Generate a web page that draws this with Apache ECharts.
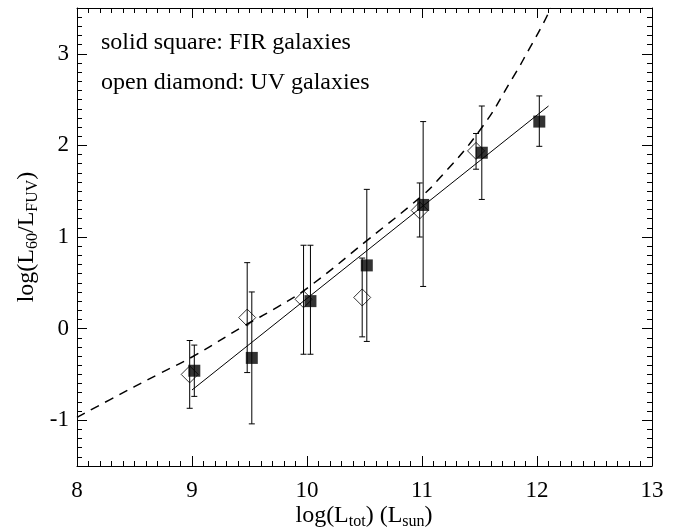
<!DOCTYPE html>
<html>
<head>
<meta charset="utf-8">
<script src="https://cdn.jsdelivr.net/npm/echarts@6/dist/echarts.min.js"></script>
<style>html,body{margin:0;padding:0;background:#fff;}#c{width:690px;height:530px;}</style>
</head>
<body>
<div id="c"></div>
<script>
// FIR galaxies (solid squares)
var firX  = [9.02, 9.52, 10.03, 10.52, 11.01, 11.52, 12.02];
var firY  = [-0.46, -0.32, 0.30, 0.69, 1.35, 1.92, 2.26];
var firLo = [-0.74, -1.04, -0.28, -0.14, 0.46, 1.41, 1.99];
var firHi = [-0.18, 0.40, 0.91, 1.52, 2.26, 2.43, 2.54];
// UV galaxies (open diamonds)
var uvX  = [8.98, 9.48, 9.97, 10.48, 10.98, 11.47];
var uvY  = [-0.50, 0.12, 0.32, 0.34, 1.29, 1.94];
var uvLo = [-0.87, -0.48, -0.28, -0.09, 1.00, 1.74];
var uvHi = [-0.13, 0.72, 0.91, 0.77, 1.59, 2.13];
// solid fitted line
var fitX = [9.0, 12.1];
var fitY = [-0.67, 2.43];
// dashed curve
var curveX = [8.0, 8.28, 8.72, 9.0, 9.44, 9.75, 10.0, 10.52, 11.0, 11.13, 11.5, 11.79, 11.94, 12.05, 12.12];
var curveY = [-0.97, -0.78, -0.49, -0.31, 0.02, 0.24, 0.44, 0.96, 1.45, 1.61, 2.16, 2.74, 3.07, 3.32, 3.50];
// axes
var xMin = 8, xMax = 13;
var yMin = -1.5, yMax = 3.5;
var yTicks = [-1, 0, 1, 2, 3];
var legendLines = ['solid square: FIR galaxies', 'open diamond: UV galaxies'];

var FONT = '"Liberation Serif", "DejaVu Serif", serif';
var chart = echarts.init(document.getElementById('c'), null, {renderer: 'canvas'});

function zip(a, b) { return a.map(function (v, i) { return [v, b[i]]; }); }
function errData(x, lo, hi) { return x.map(function (v, i) { return [v, lo[i], hi[i]]; }); }

function errRender(params, api) {
  var p1 = api.coord([api.value(0), api.value(1)]);
  var p2 = api.coord([api.value(0), api.value(2)]);
  var c = 3;
  var st = {stroke: '#000', lineWidth: 1};
  return {
    type: 'group',
    children: [
      {type: 'line', shape: {x1: p1[0], y1: p1[1], x2: p2[0], y2: p2[1]}, style: st},
      {type: 'line', shape: {x1: p1[0] - c, y1: p1[1], x2: p1[0] + c, y2: p1[1]}, style: st},
      {type: 'line', shape: {x1: p2[0] - c, y1: p2[1], x2: p2[0] + c, y2: p2[1]}, style: st}
    ]
  };
}

var LINE = {color: '#000', width: 1};
function mkX(pos, labels) {
  return {
    type: 'value', position: pos, min: xMin, max: xMax, interval: 1,
    axisLine: {show: true, onZero: false, lineStyle: LINE},
    axisTick: {show: true, inside: true, length: 10, lineStyle: LINE},
    minorTick: {show: true, splitNumber: 10, length: 5, lineStyle: LINE},
    axisLabel: {show: labels, color: '#000', fontFamily: FONT, fontSize: 23, margin: 13},
    splitLine: {show: false}
  };
}
function mkY(pos, labels) {
  return {
    type: 'value', position: pos, min: yMin, max: yMax, interval: 0.5,
    axisLine: {show: true, onZero: false, lineStyle: LINE},
    axisTick: {show: true, inside: true, length: 10, lineStyle: LINE, customValues: yTicks},
    axisLabel: {show: labels, color: '#000', fontFamily: FONT, fontSize: 23, margin: 8, customValues: yTicks},
    splitLine: {show: false}
  };
}
function mkYMinor(pos) {
  return {
    type: 'value', position: pos, min: yMin, max: yMax, interval: 0.1,
    axisLine: {show: false, onZero: false},
    axisTick: {show: true, inside: true, length: 5, lineStyle: LINE},
    axisLabel: {show: false},
    splitLine: {show: false}
  };
}

var option = {
  animation: false,
  backgroundColor: '#fff',
  grid: {left: 77, right: 38, top: 8, bottom: 64, containLabel: false},
  xAxis: [mkX('bottom', true), mkX('top', false)],
  yAxis: [mkY('left', true), mkY('right', false), mkYMinor('left'), mkYMinor('right')],
  series: [
    {type: 'line', data: zip(curveX, curveY), smooth: 0.5, showSymbol: false, symbol: 'none',
      lineStyle: {color: '#000', width: 1.5, type: [9, 7]}, clip: true, z: 2},
    {type: 'line', data: zip(fitX, fitY), showSymbol: false, symbol: 'none',
      lineStyle: {color: '#000', width: 1}, z: 2},
    {type: 'custom', renderItem: errRender, data: errData(uvX, uvLo, uvHi), z: 3},
    {type: 'custom', renderItem: errRender, data: errData(firX, firLo, firHi), z: 3},
    {type: 'scatter', data: zip(uvX, uvY), symbol: 'diamond', symbolSize: 17,
      itemStyle: {color: 'rgba(255,255,255,0)', borderColor: '#000', borderWidth: 1}, z: 4},
    {type: 'scatter', data: zip(firX, firY), symbol: 'rect', symbolSize: 12,
      itemStyle: {color: '#000'}, z: 5}
  ],
  graphic: [
    {type: 'text', x: 101, y: 43, style: {text: legendLines[0], font: '24px ' + FONT, fill: '#000', verticalAlign: 'middle'}},
    {type: 'text', x: 101, y: 83, style: {text: legendLines[1], font: '24px ' + FONT, fill: '#000', verticalAlign: 'middle'}},
    {type: 'text', x: 364, y: 516,
      style: {
        text: '{a|log(L}{s|tot}{a|) (L}{s|sun}{a|)}',
        align: 'center', verticalAlign: 'middle',
        rich: {
          a: {fontFamily: FONT, fontSize: 24, lineHeight: 28, verticalAlign: 'middle', fill: '#000'},
          s: {fontFamily: FONT, fontSize: 16, lineHeight: 12, verticalAlign: 'bottom', fill: '#000'}
        }
      }},
    {type: 'text', x: 27, y: 237, rotation: Math.PI / 2,
      style: {
        text: '{a|log(L}{s|60}{a|/L}{s|FUV}{a|)}',
        align: 'center', verticalAlign: 'middle',
        rich: {
          a: {fontFamily: FONT, fontSize: 24, lineHeight: 28, verticalAlign: 'middle', fill: '#000'},
          s: {fontFamily: FONT, fontSize: 16, lineHeight: 12, verticalAlign: 'bottom', fill: '#000'}
        }
      }}
  ]
};
chart.setOption(option);
</script>
</body>
</html>
